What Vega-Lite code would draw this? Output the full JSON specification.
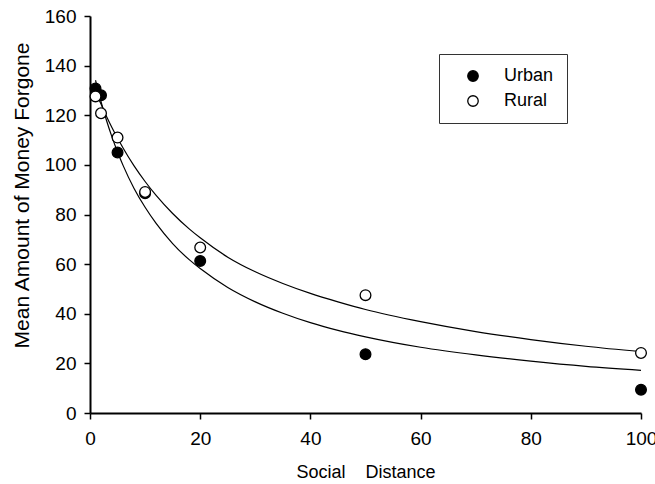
{
  "$schema": "https://vega.github.io/schema/vega-lite/v6.json",
  "width": 551,
  "height": 397,
  "autosize": {"type": "none"},
  "padding": {"left": 90, "top": 16, "right": 14, "bottom": 71},
  "background": "white",
  "config": {
    "view": {"stroke": null},
    "font": "Liberation Sans",
    "axis": {
      "grid": false,
      "domainColor": "black",
      "domainWidth": 2,
      "tickColor": "black",
      "tickWidth": 1.5,
      "tickSize": 6,
      "labelFontSize": 19,
      "labelColor": "black",
      "labelFlush": false,
      "labelOverlap": false,
      "titleFontSize": 18,
      "titleFontWeight": "normal",
      "titleColor": "black"
    }
  },
  "datasets": {
    "points": [
      {"distance": 1, "amount": 130.8, "group": "Urban"},
      {"distance": 2, "amount": 128.1, "group": "Urban"},
      {"distance": 5, "amount": 105.0, "group": "Urban"},
      {"distance": 10, "amount": 88.6, "group": "Urban"},
      {"distance": 20, "amount": 61.3, "group": "Urban"},
      {"distance": 50, "amount": 23.7, "group": "Urban"},
      {"distance": 100, "amount": 9.4, "group": "Urban"},
      {"distance": 1, "amount": 127.6, "group": "Rural"},
      {"distance": 2, "amount": 120.8, "group": "Rural"},
      {"distance": 5, "amount": 111.0, "group": "Rural"},
      {"distance": 10, "amount": 89.1, "group": "Rural"},
      {"distance": 20, "amount": 66.7, "group": "Rural"},
      {"distance": 50, "amount": 47.5, "group": "Rural"},
      {"distance": 100, "amount": 24.2, "group": "Rural"}
    ],
    "curves": [
      {"distance": 1, "amount": 134.1, "group": "Urban"},
      {"distance": 2, "amount": 125.5, "group": "Urban"},
      {"distance": 3, "amount": 117.9, "group": "Urban"},
      {"distance": 4, "amount": 111.2, "group": "Urban"},
      {"distance": 5, "amount": 105.2, "group": "Urban"},
      {"distance": 6, "amount": 99.8, "group": "Urban"},
      {"distance": 8, "amount": 90.5, "group": "Urban"},
      {"distance": 10, "amount": 82.9, "group": "Urban"},
      {"distance": 12, "amount": 76.4, "group": "Urban"},
      {"distance": 15, "amount": 68.3, "group": "Urban"},
      {"distance": 18, "amount": 61.8, "group": "Urban"},
      {"distance": 20, "amount": 58.2, "group": "Urban"},
      {"distance": 25, "amount": 50.6, "group": "Urban"},
      {"distance": 30, "amount": 44.8, "group": "Urban"},
      {"distance": 35, "amount": 40.2, "group": "Urban"},
      {"distance": 40, "amount": 36.4, "group": "Urban"},
      {"distance": 45, "amount": 33.3, "group": "Urban"},
      {"distance": 50, "amount": 30.7, "group": "Urban"},
      {"distance": 60, "amount": 26.5, "group": "Urban"},
      {"distance": 70, "amount": 23.4, "group": "Urban"},
      {"distance": 80, "amount": 20.9, "group": "Urban"},
      {"distance": 90, "amount": 18.8, "group": "Urban"},
      {"distance": 100, "amount": 17.2, "group": "Urban"},
      {"distance": 1, "amount": 129.5, "group": "Rural"},
      {"distance": 2, "amount": 124.5, "group": "Rural"},
      {"distance": 3, "amount": 119.5, "group": "Rural"},
      {"distance": 4, "amount": 115.0, "group": "Rural"},
      {"distance": 5, "amount": 110.8, "group": "Rural"},
      {"distance": 6, "amount": 106.8, "group": "Rural"},
      {"distance": 8, "amount": 99.6, "group": "Rural"},
      {"distance": 10, "amount": 93.3, "group": "Rural"},
      {"distance": 12, "amount": 87.7, "group": "Rural"},
      {"distance": 15, "amount": 80.4, "group": "Rural"},
      {"distance": 18, "amount": 74.2, "group": "Rural"},
      {"distance": 20, "amount": 70.6, "group": "Rural"},
      {"distance": 25, "amount": 62.8, "group": "Rural"},
      {"distance": 30, "amount": 56.9, "group": "Rural"},
      {"distance": 35, "amount": 52.2, "group": "Rural"},
      {"distance": 40, "amount": 48.2, "group": "Rural"},
      {"distance": 45, "amount": 44.8, "group": "Rural"},
      {"distance": 50, "amount": 41.7, "group": "Rural"},
      {"distance": 60, "amount": 36.8, "group": "Rural"},
      {"distance": 70, "amount": 32.8, "group": "Rural"},
      {"distance": 80, "amount": 29.6, "group": "Rural"},
      {"distance": 90, "amount": 26.9, "group": "Rural"},
      {"distance": 100, "amount": 24.7, "group": "Rural"}
    ]
  },
  "layer": [
    {
      "data": {"name": "curves"},
      "mark": {"type": "line", "stroke": "black", "strokeWidth": 1.2, "interpolate": "monotone"},
      "encoding": {
        "x": {"field": "distance", "type": "quantitative", "scale": {"domain": [0, 100]},
              "axis": {"values": [0, 20, 40, 60, 80, 100], "labelPadding": 10, "title": "Social\u00a0\u00a0\u00a0\u00a0Distance", "titlePadding": 15}},
        "y": {"field": "amount", "type": "quantitative", "scale": {"domain": [0, 160]},
              "axis": {"values": [0, 20, 40, 60, 80, 100, 120, 140, 160], "labelPadding": 8, "title": "Mean Amount of Money Forgone", "titleFontSize": 21, "titlePadding": 12, "titleY": 179}},
        "detail": {"field": "group"}
      }
    },
    {
      "data": {"name": "points"},
      "mark": {"type": "point", "shape": "circle", "filled": true, "stroke": "black", "strokeWidth": 1.3, "size": 115, "opacity": 1},
      "encoding": {
        "x": {"field": "distance", "type": "quantitative"},
        "y": {"field": "amount", "type": "quantitative"},
        "fill": {"field": "group", "type": "nominal",
                 "scale": {"domain": ["Urban", "Rural"], "range": ["black", "white"]},
                 "legend": {"title": null, "orient": "none", "legendX": 349, "legendY": 38,
                            "strokeColor": "#333", "padding": 13, "symbolOffset": 12,
                            "symbolType": "circle", "symbolSize": 110, "symbolStrokeColor": "black",
                            "symbolStrokeWidth": 1.3, "labelFontSize": 18, "labelColor": "black",
                            "labelOffset": 22, "rowPadding": 7, "fillColor": "white"}}
      }
    }
  ]
}
